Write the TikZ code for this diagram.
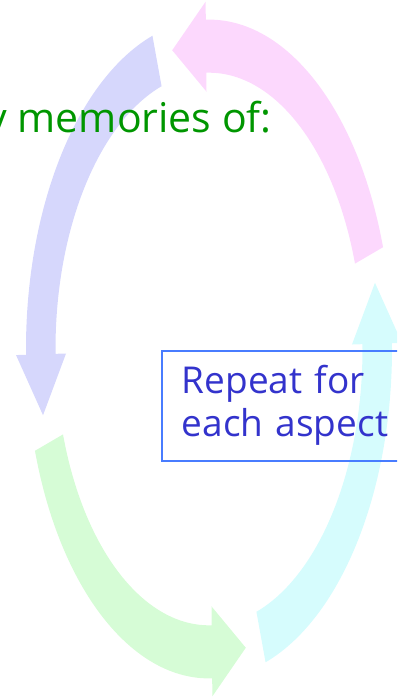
\documentclass[tikz,border=0pt]{standalone}
\usepackage{fontspec}
\setmainfont{Open Sans}
\definecolor{arrowpink}{RGB}{252,216,253}
\definecolor{arrowlav}{RGB}{214,215,252}
\definecolor{arrowgreen}{RGB}{214,252,214}
\definecolor{arrowcyan}{RGB}{214,252,253}
\definecolor{titlegreen}{RGB}{0,150,0}
\definecolor{boxblue}{RGB}{72,124,255}
\definecolor{boxtext}{RGB}{51,51,204}
\newcommand\cyclearrow[2]{%
  \fill[#1] ({#2+18}:183pt) arc[start angle={#2+18}, end angle={#2+91}, radius=183pt]
    -- ({#2+91}:193pt) -- ({#2+102.5}:170pt) -- ({#2+91}:143pt) -- ({#2+91}:153.5pt)
    arc[start angle={#2+91}, end angle={#2+18}, radius=153.5pt] -- cycle;}
\tikzset{
  titletext/.style={text=titlegreen, font=\fontsize{41}{48}\selectfont, inner sep=0pt},
  repeatbox/.style={draw=boxblue, line width=1.5pt, text=boxtext,
    font=\fontsize{37}{43}\selectfont, align=left, text width=220pt,
    inner xsep=20pt, minimum height=110pt}
}
\begin{document}
\begin{tikzpicture}
\useasboundingbox (0,0) rectangle (397pt,-697pt);
\clip (0,0) rectangle (397pt,-697pt);
\begin{scope}[shift={(209pt,-349pt)}, yscale=1.8]
  \cyclearrow{arrowpink}{0}
  \cyclearrow{arrowlav}{90}
  \cyclearrow{arrowgreen}{180}
  \cyclearrow{arrowcyan}{270}
\end{scope}
\node[titletext, anchor=base east] (title) at (272pt,-132pt) {y memories of:};
\node[repeatbox, anchor=north west] (repeat) at (161pt,-350pt) {Repeat for\\each aspect};
\end{tikzpicture}
\end{document}
